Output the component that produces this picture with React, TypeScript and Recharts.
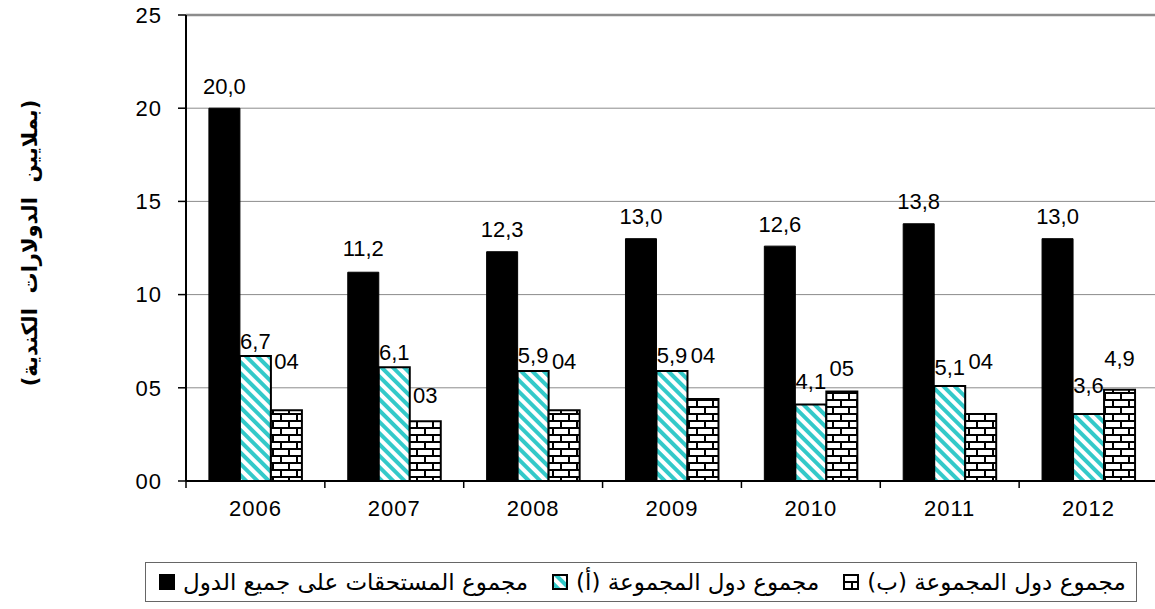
import React from 'react';
import { BarChart, Bar, XAxis, YAxis, CartesianGrid, LabelList, ReferenceLine, Label } from 'recharts';

const years = ['2006', '2007', '2008', '2009', '2010', '2011', '2012'];
const totalAll = [20.0, 11.2, 12.3, 13.0, 12.6, 13.8, 13.0];
const groupA = [6.7, 6.1, 5.9, 5.9, 4.1, 5.1, 3.6];
const groupB = [3.8, 3.2, 3.8, 4.4, 4.8, 3.6, 4.9];
const totalLabels = ['20,0', '11,2', '12,3', '13,0', '12,6', '13,8', '13,0'];
const groupALabels = ['6,7', '6,1', '5,9', '5,9', '4,1', '5,1', '3,6'];
const groupBLabels = ['04', '03', '04', '04', '05', '04', '4,9'];
const yTicks = [0, 5, 10, 15, 20, 25];
const yTickLabels = ['00', '05', '10', '15', '20', '25'];
const seriesNames = ['مجموع المستحقات على جميع الدول', 'مجموع دول المجموعة (أ)', 'مجموع دول المجموعة (ب)'];
const yAxisTitle = '(بملايين  الدولارات  الكندية)';

// label lifts (style, px above bar top to label centre)
const liftTotal = [22, 24, 22, 22, 22, 22, 22];
const liftA = [15, 15, 16, 16, 23, 18, 28];
const liftB = [49, 26, 49, 43, 23, 52, 31];

const data = years.map((y, i) => ({
  year: y,
  total: totalAll[i],
  a: groupA[i],
  b: groupB[i],
  tl: totalLabels[i],
  al: groupALabels[i],
  bl: groupBLabels[i],
}));

const FONT = '"Liberation Sans", Arial, sans-serif';
const CHART_W = 1160;
const CHART_H = 609;
const M = { top: 15, right: 2, left: 0, bottom: 88 };
const Y_W = 186;
const X_H = 40;

const makeLabel = (lifts: number[]) => (props: any) => {
  const { x, y, width, value, index } = props;
  const lift = lifts[index ?? 0] ?? 20;
  return (
    <text
      x={Number(x) + Number(width) / 2}
      y={Number(y) - lift}
      textAnchor="middle"
      dominantBaseline="central"
      fontFamily={FONT}
      fontSize={22}
      fill="#000"
    >
      {value}
    </text>
  );
};

const XTick = (props: any) => {
  const { x, y, payload } = props;
  const half = payload && typeof payload.offset === 'number' && payload.offset > 0
    ? payload.offset
    : (CHART_W - M.left - M.right - Y_W) / years.length / 2;
  return (
    <g>
      <line x1={x - half} x2={x - half} y1={y} y2={y + 7} stroke="#000" strokeWidth={1.5} />
      <text x={x} y={y + 35} textAnchor="middle" fontFamily={FONT} fontSize={22} letterSpacing={1} fill="#000">
        {payload.value}
      </text>
    </g>
  );
};

const YTitle = (props: any) => {
  const vb = props.viewBox || { x: 0, y: 15, width: 186, height: 466 };
  const cx = 30;
  const cy = vb.y + vb.height / 2 - 5;
  return (
    <text
      x={cx}
      y={cy}
      transform={`rotate(-90 ${cx} ${cy})`}
      textAnchor="middle"
      dominantBaseline="central"
      fontFamily='"DejaVu Sans", Arial, sans-serif'
      fontWeight="bold"
      fontSize={21}
      fill="#000"
      style={{ whiteSpace: 'pre' }}
    >
      {yAxisTitle}
    </text>
  );
};

const fills = ['#000000', 'url(#stripeCyan)', 'url(#brick)'];

const Swatch = ({ fill }: { fill: string }) => (
  <svg width={16} height={16} style={{ display: 'block', flex: '0 0 auto' }}>
    <rect x={1} y={1} width={14} height={14} fill={fill} stroke="#000" strokeWidth={2} />
  </svg>
);

export default function App() {
  return (
    <div style={{ position: 'absolute', left: 0, top: 0, width: 1155, height: 609, overflow: 'hidden', background: '#fff' }}>
      <svg width={0} height={0} style={{ position: 'absolute' }}>
        <defs>
          <pattern id="stripeCyan" width={8} height={8} patternUnits="userSpaceOnUse" patternTransform="rotate(-45)">
            <rect x={0} y={0} width={8} height={8} fill="#ffffff" />
            <rect x={0} y={0} width={4} height={8} fill="#33c9c9" />
          </pattern>
          <pattern id="brick" width={16} height={14} patternUnits="userSpaceOnUse">
            <rect x={0} y={0} width={16} height={14} fill="#ffffff" />
            <rect x={0} y={0} width={16} height={2} fill="#000" />
            <rect x={0} y={7} width={16} height={2} fill="#000" />
            <rect x={0} y={0} width={2} height={7} fill="#000" />
            <rect x={8} y={7} width={2} height={7} fill="#000" />
          </pattern>
        </defs>
      </svg>
      <BarChart
        width={CHART_W}
        height={CHART_H}
        data={data}
        margin={M}
        barCategoryGap="16.5%"
        barGap={0}
      >
        <CartesianGrid vertical={false} stroke="#8c8c8c" strokeWidth={1} />
        <ReferenceLine y={25} stroke="#8c8c8c" strokeWidth={2.5} />
        <XAxis
          dataKey="year"
          height={X_H}
          axisLine={{ stroke: '#000', strokeWidth: 2 }}
          tickLine={false}
          tickSize={0}
          tickMargin={0}
          tick={<XTick />}
          interval={0}
        />
        <YAxis
          width={Y_W}
          domain={[0, 25]}
          ticks={yTicks}
          interval={0}
          allowDecimals={false}
          axisLine={{ stroke: '#000', strokeWidth: 2 }}
          tickLine={{ stroke: '#000', strokeWidth: 1.5 }}
          tickSize={8}
          tickMargin={16}
          tickFormatter={(v: number) => yTickLabels[yTicks.indexOf(v)] ?? String(v)}
          tick={{ fontFamily: FONT, fontSize: 22, fill: '#000', letterSpacing: 1 }}
        >
          <Label content={<YTitle />} />
        </YAxis>
        <Bar dataKey="total" name={seriesNames[0]} fill={fills[0]} stroke="#000" strokeWidth={1} isAnimationActive={false}>
          <LabelList dataKey="tl" content={makeLabel(liftTotal)} />
        </Bar>
        <Bar dataKey="a" name={seriesNames[1]} fill={fills[1]} stroke="#000" strokeWidth={2} isAnimationActive={false}>
          <LabelList dataKey="al" content={makeLabel(liftA)} />
        </Bar>
        <Bar dataKey="b" name={seriesNames[2]} fill={fills[2]} stroke="#000" strokeWidth={2} isAnimationActive={false}>
          <LabelList dataKey="bl" content={makeLabel(liftB)} />
        </Bar>
      </BarChart>
      <div
        style={{
          position: 'absolute',
          left: 145,
          top: 562,
          width: 992,
          height: 40,
          boxSizing: 'border-box',
          border: '1px solid #666',
          display: 'flex',
          alignItems: 'center',
          paddingLeft: 13,
          fontFamily: '"DejaVu Sans", Arial, sans-serif',
          fontSize: 23,
          color: '#000',
        }}
      >
        {seriesNames.map((n, i) => (
          <div key={n} style={{ display: 'flex', alignItems: 'center', marginRight: i < 2 ? 24 : 0 }}>
            <Swatch fill={fills[i]} />
            <span dir="rtl" style={{ marginLeft: 8, whiteSpace: 'nowrap' }}>{n}</span>
          </div>
        ))}
      </div>
    </div>
  );
}
